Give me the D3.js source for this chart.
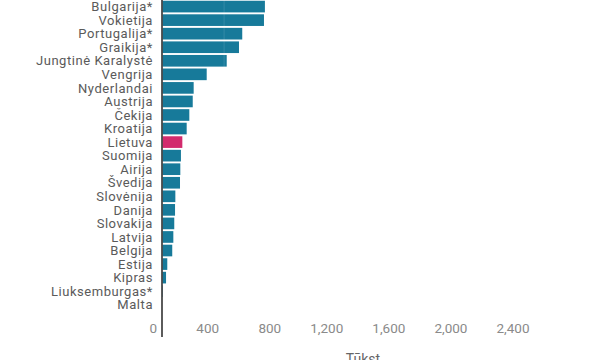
<!DOCTYPE html>
<html>
<head>
<meta charset="utf-8">
<script src="https://cdn.jsdelivr.net/npm/d3@7"></script>
<style>
  html, body { margin: 0; padding: 0; background: #fff; }
  svg { display: block; font-family: Roboto, "Noto Sans", sans-serif; }
</style>
</head>
<body>
<svg id="chart" width="600" height="360"></svg>
<script>
const categories = ["Bulgarija*", "Vokietija", "Portugalija*", "Graikija*", "Jungtinė Karalystė", "Vengrija", "Nyderlandai", "Austrija", "Čekija", "Kroatija", "Lietuva", "Suomija", "Airija", "Švedija", "Slovėnija", "Danija", "Slovakija", "Latvija", "Belgija", "Estija", "Kipras", "Liuksemburgas*", "Malta"];
const values = [663, 657, 517, 496, 417, 288, 204, 198, 176, 159, 131, 122, 118, 116, 86, 84, 79, 73, 66, 34, 26, 6, 3];
const highlight = ["Lietuva"];
const tickValues = [0, 400, 800, 1200, 1600, 2000, 2400];
const axisTitle = "Tūkst";

const svg = d3.select("#chart");
const x = d3.scaleLinear().domain([0, 2590]).range([162, 564]);
const y = d3.scaleBand().domain(categories).range([-0.2, 311.5]).paddingInner(0.14).paddingOuter(0.07);

// bars
svg.append("g").selectAll("rect").data(categories).join("rect")
  .attr("x", x(0) + 0.5)
  .attr("y", d => y(d))
  .attr("width", (d, i) => Math.max(0, x(values[i]) - x(0) - 0.5))
  .attr("height", y.bandwidth())
  .attr("fill", d => highlight.includes(d) ? "#d22b6d" : "#177a9a");

// faint gridlines over bars
svg.append("g").selectAll("line").data(tickValues.slice(1)).join("line")
  .attr("x1", d => x(d)).attr("x2", d => x(d))
  .attr("y1", 0).attr("y2", 312)
  .attr("stroke", "#ffffff").attr("stroke-opacity", 0.12).attr("stroke-width", 1);

// category labels
svg.append("g").selectAll("text").data(categories).join("text")
  .attr("x", x(0) - 9)
  .attr("y", d => y(d) + y.bandwidth() / 2)
  .attr("dy", "0.36em")
  .attr("text-anchor", "end")
  .attr("font-size", 13)
  .attr("letter-spacing", "0.55px")
  .attr("fill", "#5a5a5a")
  .text(d => d);

// axis line
svg.append("line")
  .attr("x1", x(0)).attr("x2", x(0))
  .attr("y1", 0).attr("y2", 337)
  .attr("stroke", "#333").attr("stroke-width", 1.6);

// tick labels
const fmt = d3.format(",");
svg.append("g").selectAll("text").data(tickValues).join("text")
  .attr("x", d => x(d) - 5)
  .attr("y", 328)
  .attr("dy", "0.36em")
  .attr("text-anchor", "end")
  .attr("font-size", 13.5)
  .attr("fill", "#8a8a8a")
  .text(d => fmt(d));

// axis title
svg.append("text")
  .attr("x", (x.range()[0] + x.range()[1]) / 2)
  .attr("y", 364)
  .attr("text-anchor", "middle")
  .attr("font-size", 14)
  .attr("fill", "#666")
  .text(axisTitle);
</script>
</body>
</html>
